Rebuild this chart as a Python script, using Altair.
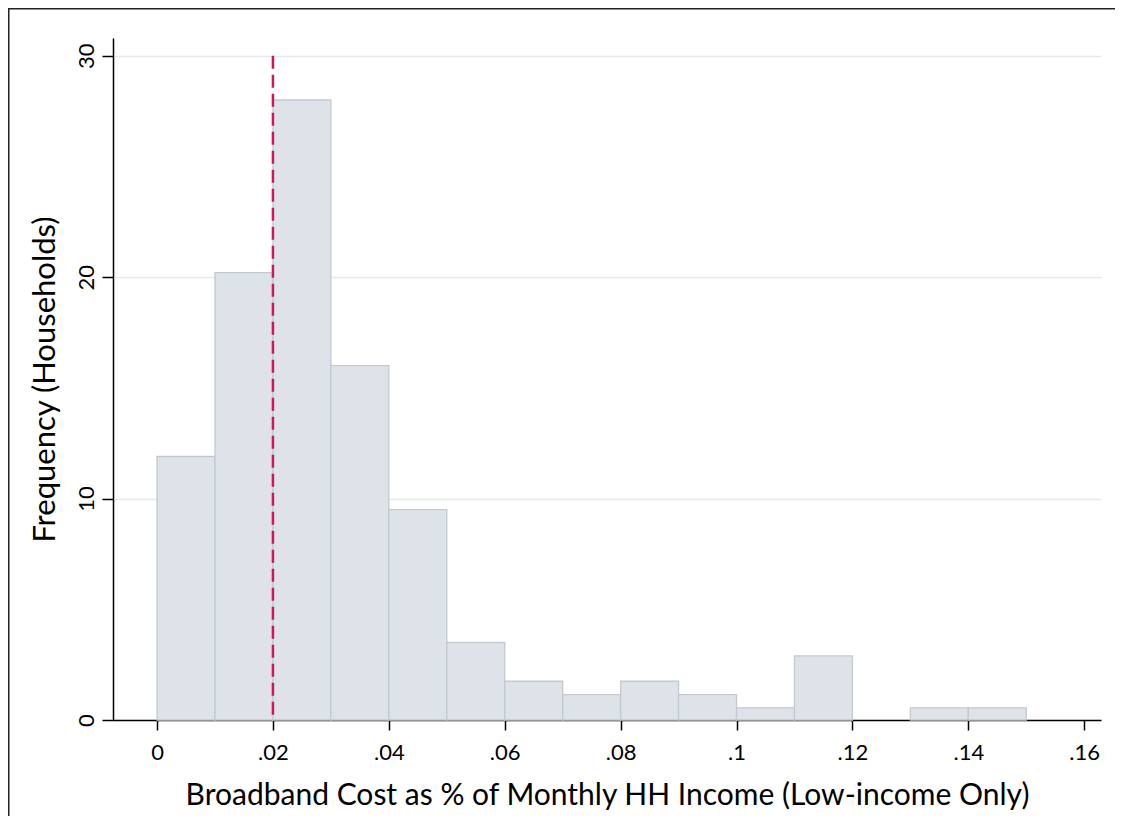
import altair as alt
import pandas as pd

# Histogram data (bin width 0.01)
bin_start = [0.00, 0.01, 0.02, 0.03, 0.04, 0.05, 0.06, 0.07, 0.08, 0.09, 0.10, 0.11, 0.12, 0.13, 0.14]
bin_end = [0.01, 0.02, 0.03, 0.04, 0.05, 0.06, 0.07, 0.08, 0.09, 0.10, 0.11, 0.12, 0.13, 0.14, 0.15]
freq = [11.9, 20.2, 28.0, 16.0, 9.5, 3.5, 1.75, 1.15, 1.75, 1.15, 0.55, 2.9, 0.0, 0.55, 0.55]

x_ticks = [0, 0.02, 0.04, 0.06, 0.08, 0.10, 0.12, 0.14, 0.16]
y_ticks = [0, 10, 20, 30]
ref_x = [0.02]
ref_top = [30]

FONT = "Lato"
W, H = 988, 682

df = pd.DataFrame({"start": bin_start, "end": bin_end, "freq": freq})
df = df[df["freq"] > 0]
ref = pd.DataFrame({"x": ref_x, "top": ref_top, "bottom": [0]})

xscale = alt.Scale(domain=[-0.0076, 0.1629], nice=False, zero=False)
yscale = alt.Scale(domain=[0, 30.8], nice=False)

xaxis = alt.Axis(
    values=x_ticks,
    labelExpr="datum.value == 0 ? '0' : replace(format(datum.value, '.2~f'), '0.', '.')",
    title="Broadband Cost as % of Monthly HH Income (Low-income Only)",
    grid=False,
    tickSize=10, tickColor="black", tickWidth=1.5,
    domainColor="black", domainWidth=1.5,
    labelFontSize=22, labelFont=FONT, labelColor="black", labelPadding=12,
    titleFontSize=30, titleFont=FONT, titleFontWeight="normal", titleColor="black",
    titlePadding=17,
)
yaxis = alt.Axis(
    values=y_ticks,
    title="Frequency (Households)",
    grid=True, gridColor="#e7eaea", gridWidth=1.5,
    tickSize=11, tickColor="black", tickWidth=1.5,
    domainColor="black", domainWidth=1.5,
    labelAngle=270, labelAlign="center", labelBaseline="bottom",
    labelFontSize=22, labelFont=FONT, labelColor="black", labelPadding=4,
    titleFontSize=31, titleFont=FONT, titleFontWeight="normal", titleColor="black",
    titlePadding=14,
)

bars = alt.Chart(df).mark_bar(
    fill="#dee3e9", stroke="#c2c9cf", strokeWidth=1.3, opacity=1
).encode(
    x=alt.X("start:Q", scale=xscale, axis=xaxis),
    x2="end:Q",
    y=alt.Y("freq:Q", scale=yscale, axis=yaxis),
    y2=alt.datum(0),
)

rule = alt.Chart(ref).mark_rule(
    color="#d4145a", strokeWidth=2.5, strokeDash=[13, 6]
).encode(
    x=alt.X("x:Q", scale=xscale),
    y=alt.Y("top:Q", scale=yscale),
    y2="bottom:Q",
)

frame = alt.Chart(ref).mark_rect(
    fill=None, fillOpacity=0, stroke="#222222", strokeWidth=2, clip=False
).encode(
    x=alt.value(-104.5), x2=alt.value(W + 60),
    y=alt.value(-29.5), y2=alt.value(H + 160),
)

chart = alt.layer(bars, rule, frame).properties(
    width=W, height=H,
    autosize=alt.AutoSizeParams(type="none"),
    padding={"left": 105, "top": 30, "right": 14, "bottom": 96},
    background="white",
).configure_view(stroke=None)

chart.save("out.html", embed_options={"renderer": "svg", "actions": False})
